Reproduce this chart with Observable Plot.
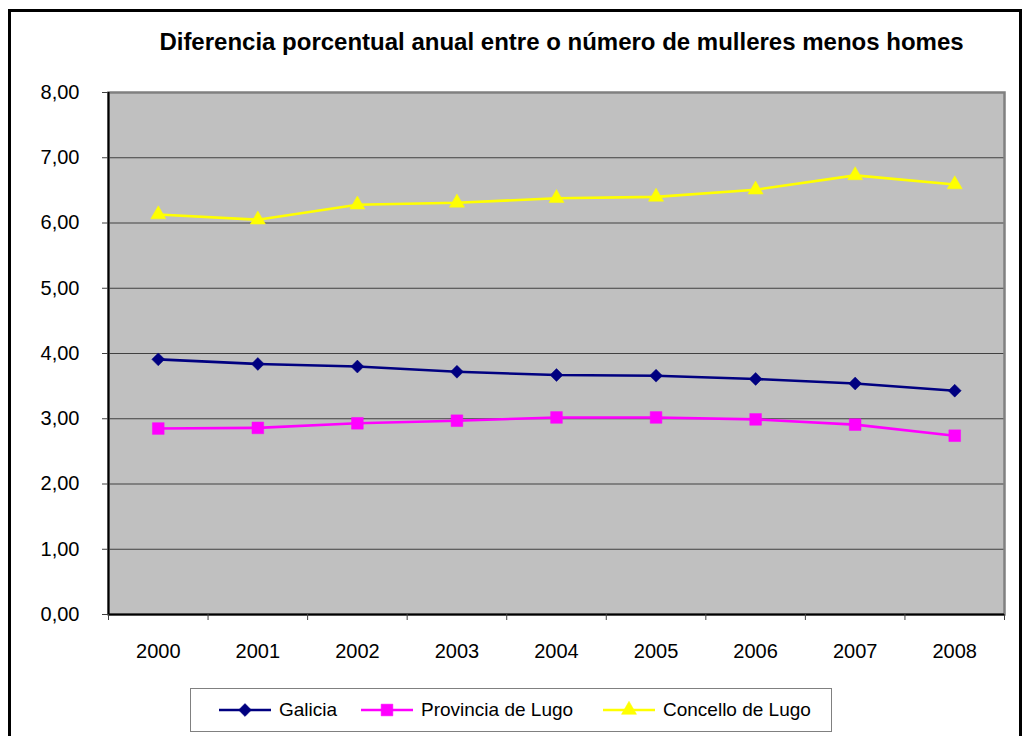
<!DOCTYPE html>
<html><head><meta charset="utf-8">
<script src="https://cdn.jsdelivr.net/npm/d3@7"></script>
<script src="https://cdn.jsdelivr.net/npm/@observablehq/plot@0.6"></script>
<style>
body{margin:0;background:#fff;font-family:"Liberation Sans",Arial,sans-serif;}
#wrap{position:relative;width:1025px;height:736px;overflow:hidden;background:#fff;}
#border{position:absolute;left:8px;top:9px;width:1014px;height:800px;border:3px solid #000;box-sizing:border-box;}
#title{position:absolute;left:0;top:28px;width:1123px;text-align:center;font-weight:bold;font-size:24px;line-height:28px;color:#000;}
#chart{position:absolute;left:0;top:0;}
#legend{position:absolute;left:190px;top:688px;width:642px;height:44px;border:1px solid #808080;box-sizing:border-box;background:#fff;}
.item{position:absolute;top:0;height:42px;display:flex;align-items:center;font-size:19px;color:#000;}
.item svg{margin-right:8px;}
</style></head>
<body>
<div id="wrap">
  <div id="border"></div>
  <div id="chart"></div>
  <div id="title">Diferencia porcentual anual entre o número de mulleres menos homes</div>
  <div id="legend"></div>
</div>
<script>
const years = [2000, 2001, 2002, 2003, 2004, 2005, 2006, 2007, 2008];
const seriesNames = ["Galicia", "Provincia de Lugo", "Concello de Lugo"];
const galicia = [3.91, 3.84, 3.80, 3.72, 3.67, 3.66, 3.61, 3.54, 3.43];
const provincia = [2.85, 2.86, 2.93, 2.97, 3.02, 3.02, 2.99, 2.91, 2.74];
const concello = [6.13, 6.05, 6.28, 6.31, 6.38, 6.40, 6.51, 6.73, 6.59];
const yTicks = [0, 1, 2, 3, 4, 5, 6, 7, 8];

const colors = ["#000080", "#ff00ff", "#ffff00"];
const symbols = ["diamond2", "square", "triangle"];
const radii = [5.8, 6.6, 5.6];
const values = [galicia, provincia, concello];

const bounds = years.map(y => y - 0.5).concat([years[years.length - 1] + 0.5]);
const fmt = d => d3.format(".2f")(d).replace(".", ",");

const seriesMarks = values.flatMap((vals, i) => {
  const rows = years.map((y, j) => ({year: y, value: vals[j]}));
  return [
    Plot.line(rows, {x: "year", y: "value", stroke: colors[i], strokeWidth: 2.6}),
    Plot.dot(rows, {x: "year", y: "value", symbol: () => symbols[i], r: radii[i], fill: colors[i], stroke: colors[i], strokeWidth: 0.5})
  ];
});

const chart = Plot.plot({
  width: 1025,
  height: 680,
  marginLeft: 108,
  marginRight: 21,
  marginTop: 92,
  marginBottom: 66,
  style: {fontFamily: "'Liberation Sans', Arial, sans-serif", fontSize: "20px", color: "#000", background: "transparent", overflow: "visible"},
  x: {type: "linear", domain: [bounds[0], bounds[bounds.length - 1]]},
  y: {domain: [0, 8]},
  marks: [
    Plot.frame({fill: "#c0c0c0", stroke: null}),
    Plot.gridY(yTicks.slice(1, -1), {stroke: "#404040", strokeOpacity: 1, strokeWidth: 1}),
    Plot.frame({stroke: "#808080", strokeWidth: 2.5}),
    Plot.ruleX([bounds[0]], {stroke: "#000", strokeWidth: 2}),
    Plot.ruleY([0], {stroke: "#000", strokeWidth: 2}),
    Plot.axisY(yTicks, {tickSize: 6, tickPadding: 23, tickFormat: fmt, fontSize: 20, stroke: "#404040", label: null}),
    Plot.axisX(years, {tickSize: 0, tickPadding: 29, tickFormat: d => String(d), fontSize: 20, label: null}),
    Plot.axisX(bounds, {tickSize: 6, tickFormat: () => "", stroke: "#404040", label: null}),
    ...seriesMarks
  ]
});
document.getElementById("chart").appendChild(chart);

// Legend
const legend = document.getElementById("legend");
const lefts = [28, 170, 412];
seriesNames.forEach((name, i) => {
  const item = document.createElement("div");
  item.className = "item";
  item.style.left = lefts[i] + "px";
  const svg = d3.create("svg").attr("width", 52).attr("height", 20);
  svg.append("line").attr("x1", 0).attr("x2", 52).attr("y1", 10).attr("y2", 10)
    .attr("stroke", colors[i]).attr("stroke-width", 2.6);
  const symType = [d3.symbolDiamond2, d3.symbolSquare, d3.symbolTriangle][i];
  svg.append("path").attr("transform", "translate(26,10)")
    .attr("d", d3.symbol(symType, Math.PI * radii[i] * radii[i])())
    .attr("fill", colors[i]).attr("stroke", colors[i]).attr("stroke-width", 0.5);
  item.appendChild(svg.node());
  const span = document.createElement("span");
  span.textContent = name;
  item.appendChild(span);
  legend.appendChild(item);
});
</script>
</body></html>
